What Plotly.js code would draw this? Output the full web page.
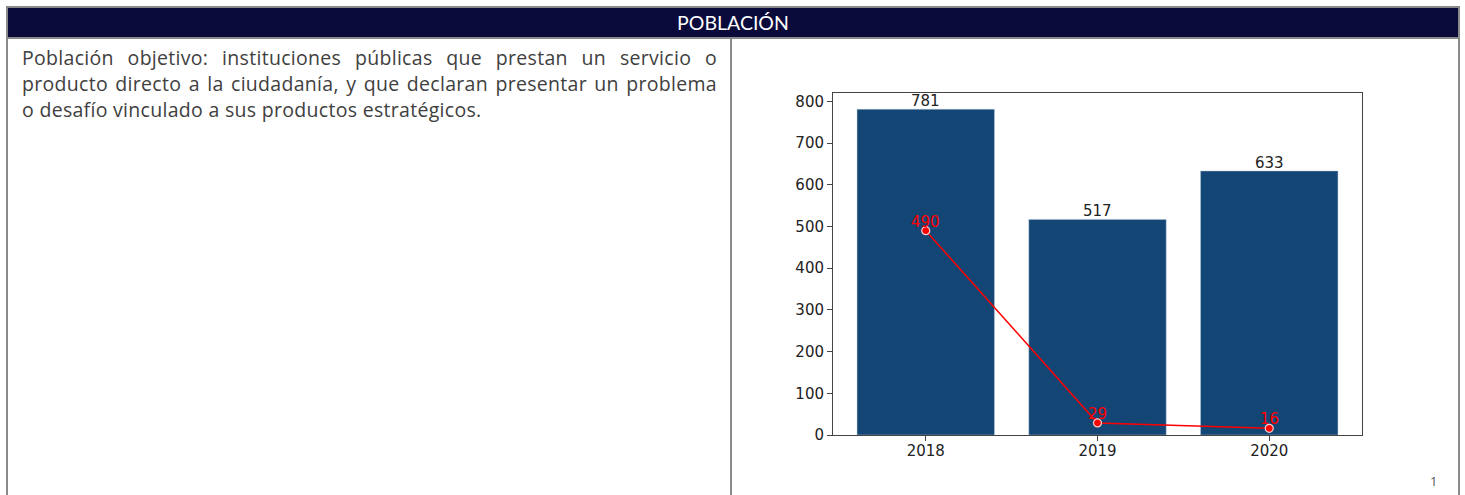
<!DOCTYPE html>
<html>
<head>
<meta charset="utf-8">
<script src="https://cdn.plot.ly/plotly-3.0.1.min.js"></script>
<style>
  html, body { margin:0; padding:0; background:#fff; width:1465px; height:495px; overflow:hidden; }
  #frame { position:absolute; left:6px; top:6px; width:1450px; height:500px; border:2px solid #8a8a8a; border-bottom:none; }
  #header { position:absolute; left:8px; top:8px; width:1450px; height:29px; background:#0b0b3b; color:#fff;
            font-family:Lato, "Open Sans", sans-serif; font-size:19.5px; line-height:29px; text-align:center; }
  #hline { position:absolute; left:6px; top:37px; width:1454px; height:2px; background:#8a8a8a; }
  #vline { position:absolute; left:730px; top:37px; width:2px; height:470px; background:#8a8a8a; }
  #para { position:absolute; left:22px; top:45px; width:695px; color:#404040;
          font-family:"Open Sans", sans-serif; font-size:19.5px; letter-spacing:0.3px; line-height:26px; }
  #para div { white-space:nowrap; }
  #para .j { text-align:justify; text-align-last:justify; }
  #pnum { position:absolute; left:1430px; top:472px; color:#555; font-family:"Open Sans", sans-serif; font-size:13px; }
  #chart { position:absolute; left:0; top:0; width:1465px; height:495px; }
</style>
</head>
<body>
<div id="frame"></div>
<div id="header">POBLACIÓN</div>
<div id="hline"></div>
<div id="vline"></div>
<div id="para">
  <div class="j">Población objetivo: instituciones públicas que prestan un servicio o</div>
  <div class="j">producto directo a la ciudadanía, y que declaran presentar un problema</div>
  <div>o desafío vinculado a sus productos estratégicos.</div>
</div>
<div id="pnum">1</div>
<div id="chart"></div>
<script>
const years = ["2018", "2019", "2020"];
const barValues = [781, 517, 633];
const lineValues = [490, 29, 16];

const tickFont = {family: "DejaVu Sans, sans-serif", size: 15, color: "#222"};

const traces = [
  {
    type: "bar", x: years, y: barValues,
    marker: {color: "#134575", line: {color: "rgba(180,200,220,0.6)", width: 0.8}},
    width: 0.8, hoverinfo: "none"
  },
  {
    type: "scatter", mode: "lines+markers", x: years, y: lineValues,
    line: {color: "#ff0000", width: 1.5},
    marker: {color: "#ff0000", size: 8, line: {color: "#f4d0d0", width: 1.2}},
    cliponaxis: false, hoverinfo: "none"
  }
];

const annotations = [];
years.forEach((yr, i) => {
  annotations.push({xref: "x", yref: "y", x: i, y: barValues[i], text: String(barValues[i]), showarrow: false,
    xanchor: "center", yanchor: "bottom", yshift: -3, font: tickFont});
  annotations.push({xref: "x", yref: "y", x: i, y: lineValues[i], text: String(lineValues[i]), showarrow: false,
    xanchor: "center", yanchor: "bottom", yshift: -2,
    font: {family: "DejaVu Sans, sans-serif", size: 15, color: "#ff0000"}});
});

const layout = {
  width: 1465, height: 495,
  margin: {l: 833, r: 103, t: 93, b: 60, pad: 0},
  paper_bgcolor: "rgba(0,0,0,0)", plot_bgcolor: "#fff",
  showlegend: false,
  bargap: 0.2,
  xaxis: {type: "category", range: [-0.54, 2.54], showline: true, mirror: true, linecolor: "#444", linewidth: 1,
          ticks: "outside", ticklen: 5, tickcolor: "#444", tickfont: tickFont, ticklabelstandoff: -3,
          showgrid: false, zeroline: false, fixedrange: true},
  yaxis: {range: [0, 820.05], tickvals: [0,100,200,300,400,500,600,700,800], showline: true, mirror: true,
          linecolor: "#444", linewidth: 1, ticks: "outside", ticklen: 5, tickcolor: "#444", tickfont: tickFont,
          showgrid: false, zeroline: false, fixedrange: true},
  annotations: annotations
};

Plotly.newPlot("chart", traces, layout, {staticPlot: true, displayModeBar: false});
</script>
</body>
</html>
